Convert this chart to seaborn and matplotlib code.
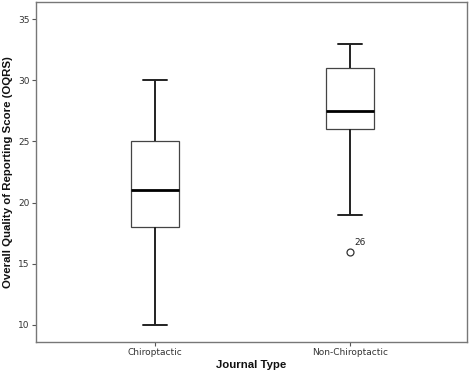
import numpy as np
import pandas as pd
import matplotlib
matplotlib.use("Agg")
import matplotlib.pyplot as plt
import seaborn as sns

# scores (quartiles / whiskers / outlier)
chiro_scores = [10, 18, 21, 25, 30]
non_chiro_scores = [16, 19, 26, 26, 27, 28, 31, 31, 32, 33]
groups = ["Chiroptactic", "Non-Chiroptactic"]
outlier_label = "26"
outlier_value = 16

df = pd.DataFrame({
    "Journal Type": [groups[0]] * len(chiro_scores) + [groups[1]] * len(non_chiro_scores),
    "OQRS": chiro_scores + non_chiro_scores,
})

sns.set_style("white")
plt.rcParams["font.family"] = ["DejaVu Sans"]

fig = plt.figure(figsize=(4.72, 3.76), dpi=100)
ax = fig.add_axes([0.0763, 0.0912, 0.913, 0.9035])

sns.boxplot(data=df, x="Journal Type", y="OQRS", order=groups, ax=ax,
            width=0.25, whis=1.5, color="white",
            boxprops=dict(facecolor="white", edgecolor="#444444", linewidth=0.9),
            medianprops=dict(color="black", linewidth=2.0),
            whiskerprops=dict(color="#222222", linewidth=1.4),
            capprops=dict(color="#222222", linewidth=1.4),
            capwidths=0.125,
            flierprops=dict(marker="o", markersize=5, markerfacecolor="white",
                            markeredgecolor="#333333", markeredgewidth=0.9))

ax.text(1 + 0.025, outlier_value + 0.35, outlier_label, fontsize=6.5, color="#222222",
        ha="left", va="bottom")

ax.set_xlim(-0.61, 1.6)
ax.set_ylim(8.63, 36.4)
ax.set_yticks([10, 15, 20, 25, 30, 35])

for s in ax.spines.values():
    s.set_visible(True)
    s.set_color("#777777")
    s.set_linewidth(1.0)

ax.tick_params(axis="both", direction="out", length=3, width=0.8, color="#555555",
               labelsize=6.5, labelcolor="#333333", pad=1.5)
ax.tick_params(axis="x", bottom=True)
ax.tick_params(axis="y", left=True)

ax.set_xlabel("Journal Type", fontsize=8.2, fontweight="bold", labelpad=2,
              color="#111111", family=["Liberation Sans", "DejaVu Sans"])
ax.set_ylabel("Overall Quality of Reporting Score (OQRS)", fontsize=8.2, fontweight="bold",
              labelpad=4, color="#111111", family=["Liberation Sans", "DejaVu Sans"])

fig.savefig("out.png", dpi=100)
